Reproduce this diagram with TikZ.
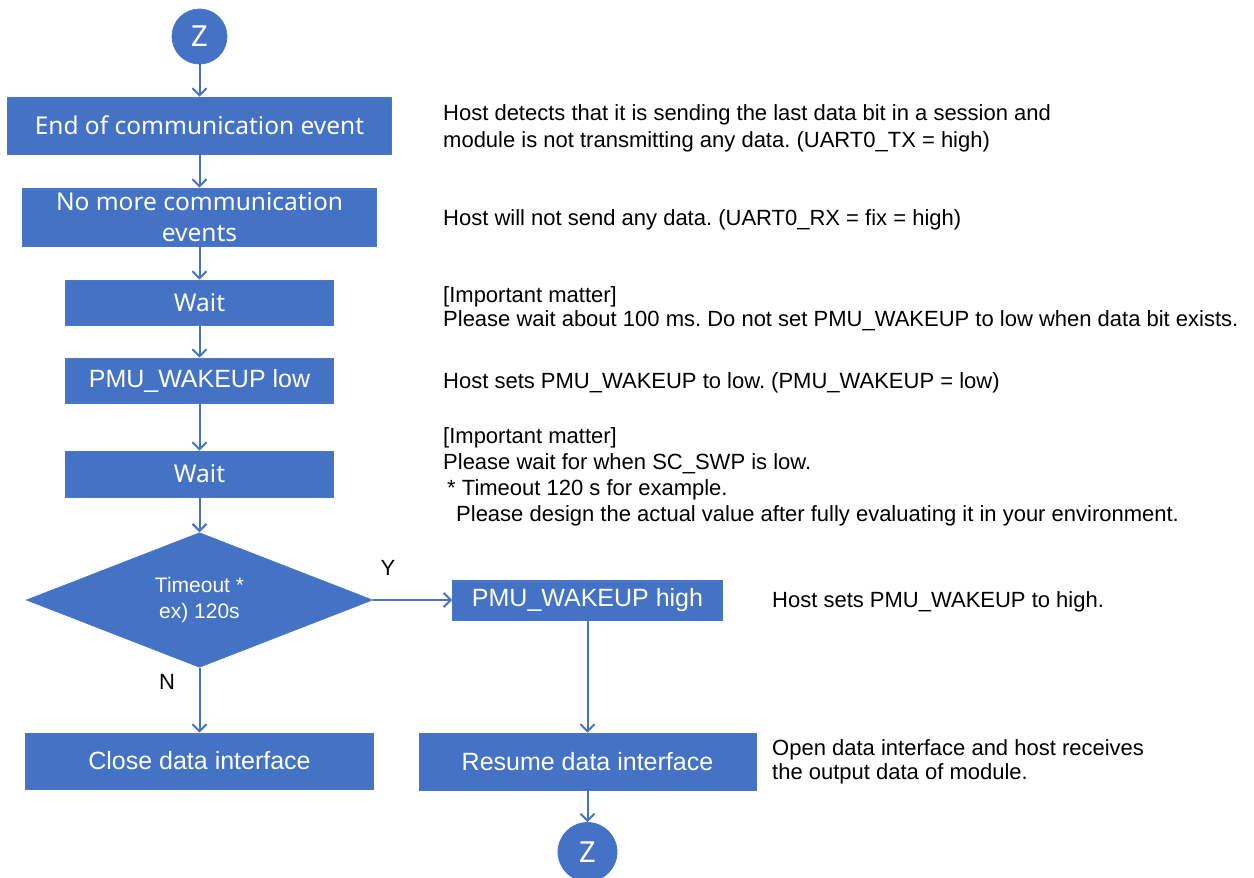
\documentclass[tikz,border=0pt]{standalone}
\usepackage{fontspec}
\setmainfont{Liberation Sans}
\newfontfamily\yu{Noto Sans}
\usetikzlibrary{shapes.geometric,arrows.meta}
\definecolor{blu}{HTML}{4472C4}
\definecolor{bluedge}{HTML}{4A78C8}
\frenchspacing
\begin{document}
\begin{tikzpicture}[x=1pt,y=-1pt,
  box/.style={rectangle,fill=blu,draw=bluedge,line width=0.8pt,text=white,inner sep=0pt,align=center},
  ybox/.style={box,font=\yu\fontsize{24.5}{31}\selectfont},
  abox/.style={box,font=\fontsize{25}{30}\selectfont},
  conn/.style={circle,fill=blu,draw=bluedge,line width=0.8pt,text=white,inner sep=0pt,font=\yu\fontsize{29}{32}\selectfont},
  flow/.style={draw=blu,line width=2pt,-{Straight Barb[length=7pt,width=14pt,line width=2pt]}},
  note/.style={anchor=base west,inner sep=0pt,align=left,text=black},
  yn/.style={inner sep=0pt,text=black,font=\fontsize{22}{26}\selectfont}]
\useasboundingbox (0,0) rectangle (1254,878);
\fill[white] (0,0) rectangle (1254,878);

% flow nodes
\node[conn,minimum size=55pt] (z1) at (199.5,36.5) {Z};
\node[ybox,minimum width=384pt,minimum height=57pt] (b1) at (199.5,125.5) {End of communication event};
\node[ybox,minimum width=354pt,minimum height=58pt] (b2) at (199.5,217) {No more communication\\events};
\node[ybox,minimum width=268pt,minimum height=45pt] (w1) at (199.5,302.5) {Wait};
\node[abox,minimum width=268pt,minimum height=45pt] (low) at (199.5,380.5) {PMU\_WAKEUP low};
\node[ybox,minimum width=268pt,minimum height=46pt] (w2) at (199.5,474) {Wait};
\node[diamond,fill=blu,draw=bluedge,line width=0.8pt,text=white,inner sep=0pt,align=center,
      minimum width=346pt,minimum height=112pt,font=\fontsize{21}{26}\selectfont] (dia) at (199.5,600) {Timeout *\\ex) 120s};
\node[abox,minimum width=348pt,minimum height=56pt] (close) at (199.5,761) {Close data interface};
\node[abox,minimum width=270pt,minimum height=40pt] (high) at (587.5,600) {PMU\_WAKEUP high};
\node[abox,minimum width=337pt,minimum height=57pt] (resume) at (587.5,761.5) {Resume data interface};
\node[conn,minimum size=59pt] (z2) at (587.5,852) {Z};

% connectors
\draw[flow] (z1.south) -- (b1.north);
\draw[flow] (b1.south) -- (b2.north);
\draw[flow] (b2.south) -- (w1.north);
\draw[flow] (w1.south) -- (low.north);
\draw[flow] (low.south) -- (w2.north);
\draw[flow] (w2.south) -- (dia.north);
\draw[flow] (dia.south) -- (close.north);
\draw[flow] (dia.east) -- (high.west);
\draw[flow] (high.south) -- (resume.north);
\draw[flow] (resume.south) -- (z2.north);

\node[yn] (ylab) at (388,568) {Y};
\node[yn] (nlab) at (167,682) {N};

% annotations (anchor = baseline of the last line)
\node[note,font=\fontsize{22}{27}\selectfont] (t1) at (443,147) {Host detects that it is sending the last data bit in a session and\\module is not transmitting any data. (UART0\_TX = high)};
\node[note,font=\fontsize{22}{27}\selectfont] (t2) at (443,225) {Host will not send any data. (UART0\_RX = fix = high)};
\node[note,font=\fontsize{22}{24}\selectfont] (t3) at (443,326) {[Important matter]\\Please wait about 100 ms. Do not set PMU\_WAKEUP to low when data bit exists.};
\node[note,font=\fontsize{22}{27}\selectfont] (t4) at (443,388) {Host sets PMU\_WAKEUP to low. (PMU\_WAKEUP = low)};
\node[note,font=\fontsize{22}{26}\selectfont] (t5) at (443,521) {[Important matter]\\Please wait for when SC\_SWP is low.\\\hspace*{4pt}* Timeout 120 s for example.\\\hspace*{13pt}Please design the actual value after fully evaluating it in your environment.};
\node[note,font=\fontsize{22}{27}\selectfont] (t6) at (772,607) {Host sets PMU\_WAKEUP to high.};
\node[note,font=\fontsize{22}{24}\selectfont] (t7) at (772,779) {Open data interface and host receives\\the output data of module.};
\end{tikzpicture}
\end{document}
